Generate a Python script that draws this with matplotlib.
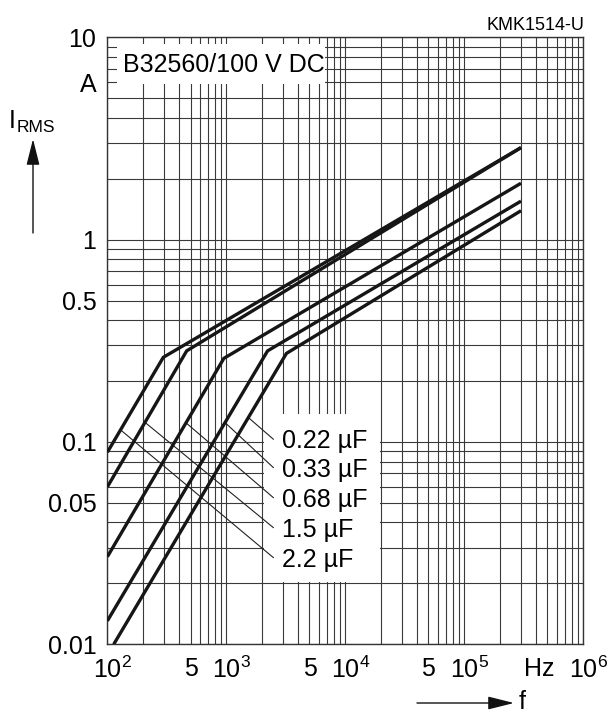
import numpy as np
import matplotlib
matplotlib.use('Agg')
import matplotlib.pyplot as plt
from matplotlib.ticker import FixedLocator, FixedFormatter, LogLocator, NullFormatter
from matplotlib.patches import Rectangle
from matplotlib.transforms import ScaledTranslation

plt.rcParams['font.family'] = ['Liberation Sans', 'DejaVu Sans']
plt.rcParams['mathtext.fontset'] = 'custom'
plt.rcParams['mathtext.rm'] = 'Liberation Sans'
plt.rcParams['mathtext.it'] = 'Liberation Sans:italic'
plt.rcParams['mathtext.bf'] = 'Liberation Sans:bold'

# ---------------- data ----------------
capacitances = ['0.22 µF', '0.33 µF', '0.68 µF', '1.5 µF', '2.2 µF']
freq_022 = [113, 3200, 3.0e5]
irms_022 = [0.010, 0.274, 1.39]
freq_033 = [100, 2222, 3.0e5]
irms_033 = [0.01306, 0.282, 1.55]
freq_068 = [100, 953, 3.0e5]
irms_068 = [0.0271, 0.259, 1.90]
freq_15 = [100, 464, 3.0e5]
irms_15 = [0.060, 0.282, 2.85]
freq_22 = [100, 295, 3.0e5]
irms_22 = [0.089, 0.262, 2.85]
# frequency where each label's leader line touches its curve
leader_freq = [1531, 975, 458, 207, 129]

x_tick_pos = [1e2, 5e2, 1e3, 5e3, 1e4, 5e4, 1e5, 4.3e5, 1e6]
x_tick_lab = ['$10^2$', '5', '$10^3$', '5', '$10^4$', '5', '$10^5$', 'Hz', '$10^6$']
y_tick_pos = [0.01, 0.05, 0.1, 0.5, 1, 6, 10]
y_tick_lab = ['0.01', '0.05', '0.1', '0.5', '1', 'A', '10']

curves = [(freq_022, irms_022), (freq_033, irms_033), (freq_068, irms_068),
          (freq_15, irms_15), (freq_22, irms_22)]

# ---------------- figure ----------------
W, H = 609, 714
FS = 18
fig = plt.figure(figsize=(W / 100, H / 100), dpi=100)
ax = fig.add_axes([107.4 / W, 1 - 644.3 / H, 475.8 / W, 607 / H])
ax.set_xscale('log')
ax.set_yscale('log')
ax.set_xlim(1e2, 1e6)
ax.set_ylim(0.01, 10)
ax.set_axisbelow(True)

for axis in (ax.xaxis, ax.yaxis):
    axis.set_minor_locator(LogLocator(base=10, subs=np.arange(1, 10), numticks=50))
    axis.set_minor_formatter(NullFormatter())
    axis.remove_overlapping_locs = False
ax.xaxis.set_major_locator(FixedLocator(x_tick_pos))
ax.xaxis.set_major_formatter(FixedFormatter(x_tick_lab))
ax.yaxis.set_major_locator(FixedLocator(y_tick_pos))
ax.yaxis.set_major_formatter(FixedFormatter(y_tick_lab))
ax.grid(False, which='major')
ax.grid(True, which='minor', color='#3a3a3a', lw=0.8)
ax.tick_params(which='both', length=0)
ax.tick_params(axis='x', labelsize=FS, pad=9)
ax.tick_params(axis='y', labelsize=FS, pad=8)
for s in ax.spines.values():
    s.set_linewidth(1.0)
    s.set_color('#333333')

# shift the power-of-ten labels so the mantissa "10" sits on its tick
fig.canvas.draw()
for lab in ax.get_xticklabels():
    if lab.get_text().startswith('$10'):
        lab.set_transform(lab.get_transform() + ScaledTranslation(5 / 100, 0, fig.dpi_scale_trans))

# white boxes masking the grid
ax.add_patch(Rectangle((120, 5.85), 6.8e3 - 120, 9.3 - 5.85, transform=ax.transData,
                       fc='white', ec='none', zorder=1.5))
ax.add_patch(Rectangle((2.06e3, 0.0203), 1.94e4 - 2.06e3, 0.138 - 0.0203,
                       transform=ax.transData, fc='white', ec='none', zorder=1.5))

for f, i in curves:
    ax.plot(f, i, color='#161616', lw=2.4, solid_joinstyle='miter',
            solid_capstyle='butt', zorder=3)

label_y_center = [0.3377, 0.2910, 0.2415, 0.1921, 0.1427]
for (f, i), lab, lf, yc in zip(curves, capacitances, leader_freq, label_y_center):
    li = 10 ** np.interp(np.log10(lf), np.log10(f), np.log10(i))
    ax.annotate('', xy=(lf, li), xycoords='data', xytext=(0.349, yc),
                textcoords='axes fraction',
                arrowprops=dict(arrowstyle='-', lw=0.8, color='#222222',
                                shrinkA=0, shrinkB=0), zorder=2.5)
    ax.text(0.366, yc - 0.0148, lab, transform=ax.transAxes, fontsize=FS,
            va='baseline', ha='left', zorder=4)

ax.text(0.032, 0.9433, 'B32560/100 V DC', transform=ax.transAxes, fontsize=FS,
        va='baseline', ha='left', zorder=4)

# axis labels and arrows
fig.text(584 / W, 1 - 30 / H, 'KMK1514-U', fontsize=13, ha='right', va='baseline')
fig.text(9 / W, 1 - 128 / H, 'I', fontsize=FS, ha='left', va='baseline')
fig.text(17 / W, 1 - 132 / H, 'RMS', fontsize=12.5, ha='left', va='baseline')
ax.annotate('', xy=(33 / W, 1 - 139 / H), xycoords='figure fraction',
            xytext=(33 / W, 1 - 233 / H), textcoords='figure fraction',
            arrowprops=dict(arrowstyle='-|>,head_length=0.8,head_width=0.2',
                            mutation_scale=20, lw=1.0, color='#111111',
                            shrinkA=0, shrinkB=0))
ax.annotate('', xy=(514 / W, 1 - 703 / H), xycoords='figure fraction',
            xytext=(417 / W, 1 - 703 / H), textcoords='figure fraction',
            arrowprops=dict(arrowstyle='-|>,head_length=0.8,head_width=0.2',
                            mutation_scale=20, lw=1.0, color='#111111',
                            shrinkA=0, shrinkB=0))
fig.text(519 / W, 1 - 702 / H, 'f', fontsize=FS, ha='left', va='center')

fig.savefig('out.png', dpi=100, facecolor='white')
